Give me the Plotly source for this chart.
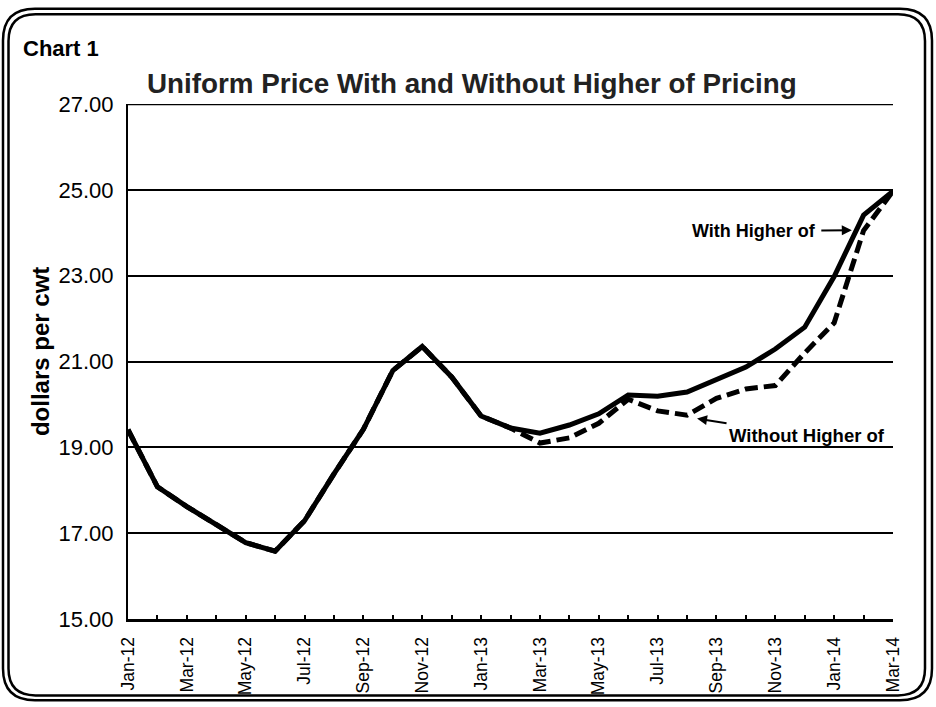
import plotly.graph_objects as go

months = ["Jan-12","Feb-12","Mar-12","Apr-12","May-12","Jun-12","Jul-12","Aug-12","Sep-12",
          "Oct-12","Nov-12","Dec-12","Jan-13","Feb-13","Mar-13","Apr-13","May-13","Jun-13",
          "Jul-13","Aug-13","Sep-13","Oct-13","Nov-13","Dec-13","Jan-14","Feb-14","Mar-14"]
with_higher = [19.41,18.08,17.62,17.20,16.78,16.58,17.29,18.38,19.42,20.79,21.35,20.64,19.73,
               19.45,19.33,19.52,19.78,20.22,20.19,20.29,20.58,20.87,21.29,21.80,22.98,24.41,24.97]
without_higher = [19.41,18.08,17.62,17.20,16.78,16.58,17.29,18.38,19.42,20.79,21.35,20.64,19.73,
                  19.45,19.10,19.22,19.56,20.12,19.85,19.75,20.14,20.36,20.44,21.20,21.90,24.05,24.97]
tick_labels = [m if i % 2 == 0 else "" for i, m in enumerate(months)]
y_ticks = [15, 17, 19, 21, 23, 25, 27]

W, H = 936, 707
L, R, T, B = 128, 43, 104, 84
PW, PH = W - L - R, H - T - B
FONT = "Liberation Sans, Arial, sans-serif"

def px(x):
    return (x - L) / PW

def py(y):
    return (H - B - y) / PH

def rounded(x0, y0, x1, y1, r):
    def p(x, y):
        return f"{px(x):.5f},{py(y):.5f}"
    return (f"M {p(x0 + r, y0)} L {p(x1 - r, y0)} Q {p(x1, y0)} {p(x1, y0 + r)} "
            f"L {p(x1, y1 - r)} Q {p(x1, y1)} {p(x1 - r, y1)} "
            f"L {p(x0 + r, y1)} Q {p(x0, y1)} {p(x0, y1 - r)} "
            f"L {p(x0, y0 + r)} Q {p(x0, y0)} {p(x0 + r, y0)} Z")

fig = go.Figure()
fig.add_trace(go.Scatter(x=months, y=without_higher, mode="lines",
                         line=dict(color="black", width=5, dash="13px,6px"),
                         name="Without Higher of", showlegend=False))
fig.add_trace(go.Scatter(x=months, y=with_higher, mode="lines",
                         line=dict(color="black", width=5),
                         name="With Higher of", showlegend=False))

fig.update_layout(
    width=W, height=H,
    margin=dict(l=L, r=R, t=T, b=B),
    paper_bgcolor="white", plot_bgcolor="white",
    font=dict(family=FONT, color="black"),
    xaxis=dict(type="category", range=[0, len(months) - 1],
               tickmode="array", tickvals=months, ticktext=tick_labels,
               tickangle=-90, tickfont=dict(size=17.5, family=FONT),
               ticks="inside", ticklen=4, tickwidth=2, tickcolor="black",
               showline=True, linecolor="black", linewidth=3,
               showgrid=False, zeroline=False, ticklabelstandoff=8),
    yaxis=dict(range=[15, 27], tickmode="array", tickvals=y_ticks,
               ticktext=[f"{v:.2f}" for v in y_ticks],
               tickfont=dict(size=22, family=FONT),
               ticks="inside", ticklen=4, tickwidth=2, tickcolor="black",
               showline=True, linecolor="black", linewidth=2,
               showgrid=True, gridcolor="black", gridwidth=2,
               zeroline=False, ticklabelstandoff=8),
)

shapes = [
    # top gridline at the upper range limit (27.00)
    dict(type="line", xref="paper", yref="y", x0=0, x1=1, y0=y_ticks[-1], y1=y_ticks[-1],
         line=dict(color="black", width=2.5), layer="below"),
    dict(type="path", xref="paper", yref="paper", path=rounded(3, 8, 932, 705, 32),
         line=dict(color="black", width=2.5), layer="above"),
    dict(type="path", xref="paper", yref="paper", path=rounded(8.5, 13.5, 925, 700, 27),
         line=dict(color="black", width=2.5), layer="above"),
]
fig.update_layout(shapes=shapes)

annotations = [
    dict(text="<b>Chart 1</b>", xref="paper", yref="paper", x=px(21), y=py(48),
         xanchor="left", yanchor="middle", showarrow=False, font=dict(size=22, family=FONT)),
    dict(text="<b>Uniform Price With and Without Higher of Pricing</b>", xref="paper", yref="paper",
         x=px(472), y=py(83), xanchor="center", yanchor="middle", showarrow=False,
         font=dict(size=27.8, family=FONT, color="#222222")),
    dict(text="<b>dollars per cwt</b>", xref="paper", yref="paper", x=px(40), y=py(354),
         xanchor="center", yanchor="middle", textangle=-90, showarrow=False,
         font=dict(size=24, family=FONT)),
    dict(text="<b>With Higher of</b>", xref="x", yref="y", x=24.6, y=24.06,
         ax=-98, ay=1, axref="pixel", ayref="pixel", showarrow=True,
         arrowhead=2, arrowsize=1, arrowwidth=2, arrowcolor="black", borderpad=5,
         font=dict(size=18, family=FONT)),
    dict(text="<b>Without Higher of</b>", xref="x", yref="y", x=19.34, y=19.67,
         ax=110, ay=17, axref="pixel", ayref="pixel", showarrow=True,
         arrowhead=2, arrowsize=1, arrowwidth=2, arrowcolor="black", borderpad=2,
         font=dict(size=18.5, family=FONT)),
]
fig.update_layout(annotations=annotations)

fig.write_html("out.html", config={"displayModeBar": False},
               post_script="document.body.style.margin='0';document.body.style.overflow='hidden';")
